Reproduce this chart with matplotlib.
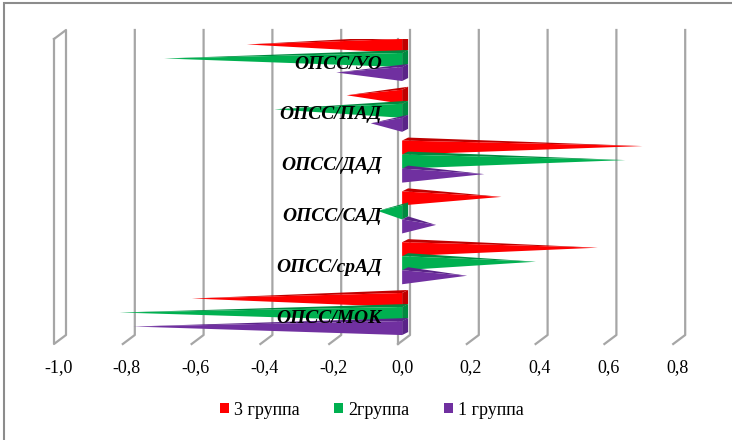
import numpy as np
import matplotlib.pyplot as plt
from matplotlib.patches import Polygon, Rectangle

# categories, top to bottom
categories = ['ОПСС/УО', 'ОПСС/ПАД', 'ОПСС/ДАД', 'ОПСС/САД', 'ОПСС/срАД', 'ОПСС/МОК']
group3 = [-0.46, -0.17, 0.69, 0.28, 0.56, -0.62]   # 3 группа
group2 = [-0.70, -0.38, 0.64, -0.08, 0.38, -0.83]  # 2группа
group1 = [-0.20, -0.10, 0.23, 0.09, 0.18, -0.79]   # 1 группа
series_names = ['3 группа', '2группа', '1 группа']
ticks = [-1.0, -0.8, -0.6, -0.4, -0.2, 0.0, 0.2, 0.4, 0.6, 0.8]

colors = ['#FF0000', '#00B050', '#7030A0']
dark = ['#C00000', '#008A40', '#5A2488']

plt.rcParams['font.family'] = ['Liberation Serif', 'DejaVu Serif']

W, H = 732, 440
fig = plt.figure(figsize=(W / 100, H / 100), dpi=100)
# outer chart frame
fig.patches.append(Rectangle((4 / W, -0.1), 1.2, 1 - 3 / H + 0.1, transform=fig.transFigure,
                             fill=False, edgecolor='#8C8C8C', lw=1.5))

ax = fig.add_axes([54 / W, 1 - 344 / H, 619.2 / W, 305 / H])
ax.set_xlim(-1.0, 0.8)
ax.set_ylim(5.59, -0.413)
ax.axis('off')

# 3d offsets (data units)
wdx, wdy = 12 / 344, 9 / 50.8     # walls/floor depth
bdx, bdy = 6 / 344, 3 / 50.8      # bar depth
top_f, bot_f = -0.413, 5.59
top_b, bot_b = top_f - wdy, bot_f - wdy
grid_c = '#A6A6A6'

# left wall at -1.0
ax.plot([-1.0, -1.0 + wdx, -1.0 + wdx, -1.0, -1.0],
        [top_f, top_b, bot_b, bot_f, top_f], color=grid_c, lw=1.6, clip_on=False)
for v in ticks[1:]:
    ax.plot([v, v + wdx, v + wdx], [bot_f, bot_b, top_b], color=grid_c, lw=1.6, clip_on=False)
ax.plot([0, 0], [top_f, bot_f], color=grid_c, lw=1.6, clip_on=False)

x0 = 0.012
h = 0.276
offsets = [-h, 0, h]
for s, vals in enumerate([group3, group2, group1]):
    for i, v in enumerate(vals):
        yc = i + offsets[s]
        yt, yb = yc - h / 2, yc + h / 2
        apex = (x0 + v + bdx / 2, yc - bdy / 2)
        if v < 0:
            ax.add_patch(Polygon([(x0, yt), (x0, yb), (x0 + bdx, yb - bdy), (x0 + bdx, yt - bdy)],
                                 closed=True, facecolor=dark[s], edgecolor='none', zorder=3 + s))
        ax.add_patch(Polygon([(x0, yt), (x0 + bdx, yt - bdy), apex], closed=True,
                             facecolor=dark[s], edgecolor='none', zorder=3 + s))
        ax.add_patch(Polygon([(x0, yt), (x0, yb), apex], closed=True,
                             facecolor=colors[s], edgecolor='none', zorder=3 + s))

for i, c in enumerate(categories):
    ax.text(-0.047, i + 0.08, c, ha='right', va='center', fontsize=14,
            fontweight='bold', fontstyle='italic', zorder=10)

for v in ticks:
    lab = ('%.1f' % v).replace('.', ',')
    ax.text(v + 0.012, 6.05, lab, ha='center', va='center', fontsize=13, clip_on=False)

handles = [Rectangle((0, 0), 1, 1, facecolor=c, edgecolor='none') for c in colors]
fig.legend(handles, series_names, loc='center', bbox_to_anchor=(372 / W, 1 - 410 / H),
           ncol=3, frameon=False, fontsize=13, handlelength=0.5, handleheight=0.5,
           handletextpad=0.3, columnspacing=1.9)

fig.savefig('out.png', dpi=100)
